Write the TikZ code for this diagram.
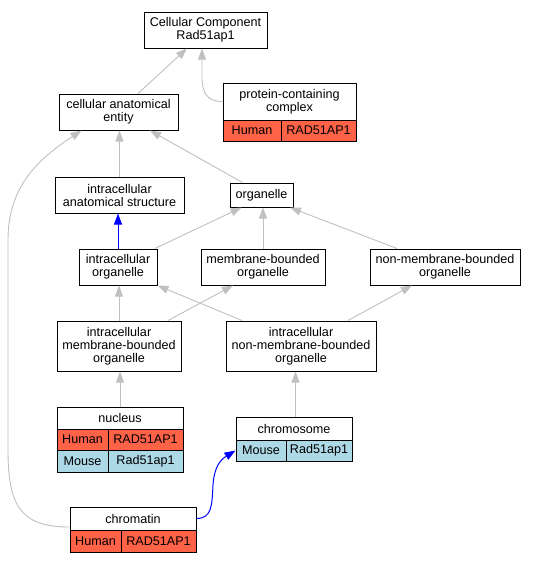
\documentclass[tikz,border=0pt]{standalone}
\usepackage{fontspec}
\setmainfont{Liberation Sans}
\usetikzlibrary{arrows.meta}
\definecolor{humanc}{HTML}{FF6347}
\definecolor{mousec}{HTML}{ADD8E6}
\definecolor{edgegray}{HTML}{C0C0C0}
\begin{document}
\begin{tikzpicture}[x=1pt,y=-1pt,
  box/.style={draw=black, line width=1pt, fill=white, align=center, inner sep=0pt, font=\fontsize{12.6}{13}\selectfont},
  hum/.style={box, fill=humanc},
  mou/.style={box, fill=mousec},
  gedge/.style={draw=edgegray, line width=0.9pt, -{Triangle[length=11pt,width=8pt]}},
  bedge/.style={draw=blue, line width=1pt, -{Triangle[length=11pt,width=8pt]}}]
\useasboundingbox (0,0) rectangle (536,563);
% nodes
\node[box, minimum width=123pt, minimum height=36pt] (cc) at (205.5,30) {Cellular Component\\Rad51ap1};
\node[box, minimum width=119pt, minimum height=36pt] (cae) at (118.5,112) {cellular anatomical\\entity};
\node[box, minimum width=133pt, minimum height=37pt] (pcc) at (289.5,101.5) {protein-containing\\complex};
\node[hum, minimum width=58pt, minimum height=21pt] (pcch) at (252,130.5) {Human};
\node[hum, minimum width=75pt, minimum height=21pt] (pccg) at (318.5,130.5) {RAD51AP1};
\node[box, minimum width=129pt, minimum height=36pt] (ias) at (119.5,195) {intracellular\\anatomical structure};
\node[box, minimum width=63pt, minimum height=24pt] (org) at (261.5,195) {organelle};
\node[box, minimum width=78pt, minimum height=36pt] (io) at (118,267) {intracellular\\organelle};
\node[box, minimum width=124pt, minimum height=36pt] (mbo) at (263,267) {membrane-bounded\\organelle};
\node[box, minimum width=150pt, minimum height=36pt] (nmbo) at (445,267) {non-membrane-bounded\\organelle};
\node[box, minimum width=124pt, minimum height=50pt] (imbo) at (119,346) {intracellular\\membrane-bounded\\organelle};
\node[box, minimum width=150pt, minimum height=50pt] (inmbo) at (301,346) {intracellular\\non-membrane-bounded\\organelle};
\node[box, minimum width=126pt, minimum height=22pt] (nuc) at (120,418) {nucleus};
\node[hum, minimum width=51pt, minimum height=21pt] (nuch) at (82.5,439.5) {Human};
\node[hum, minimum width=75pt, minimum height=21pt] (nucg) at (145.5,439.5) {RAD51AP1};
\node[mou, minimum width=51pt, minimum height=22pt] (nucm) at (82.5,461) {Mouse};
\node[mou, minimum width=75pt, minimum height=22pt] (nucmg) at (145.5,461) {Rad51ap1};
\node[box, minimum width=116pt, minimum height=23pt] (chr) at (294,428.5) {chromosome};
\node[mou, minimum width=50pt, minimum height=21pt] (chrm) at (261,450.5) {Mouse};
\node[mou, minimum width=66pt, minimum height=21pt] (chrg) at (319,450.5) {Rad51ap1};
\node[box, minimum width=126pt, minimum height=23pt] (cht) at (133,518.5) {chromatin};
\node[hum, minimum width=51pt, minimum height=22pt] (chth) at (95.5,541) {Human};
\node[hum, minimum width=75pt, minimum height=22pt] (chtg) at (158.5,541) {RAD51AP1};
% edges
\draw[gedge] ([xshift=19.5pt]cae.north) -- ([xshift=-18.5pt]cc.south);
\draw[gedge] (pcc.west) .. controls (206,101.5) and (202,92) .. (202,76) -- ([xshift=-3.5pt]cc.south);
\draw[gedge] (ias.north) -- (ias.north |- cae.south);
\draw[gedge] ([xshift=-19pt]org.north) -- ([xshift=31.5pt]cae.south);
\draw[bedge] (io.north) -- (io.north |- ias.south);
\draw[gedge] ([xshift=37pt]io.north) -- ([xshift=-20pt]org.south);
\draw[gedge] (mbo.north) -- (mbo.north |- org.south);
\draw[gedge] ([xshift=-48pt]nmbo.north) -- ([xshift=28.5pt]org.south);
\draw[gedge] (imbo.north) -- (imbo.north |- io.south);
\draw[gedge] ([xshift=49pt]imbo.north) -- ([xshift=-30pt]mbo.south);
\draw[gedge] ([xshift=-59pt]inmbo.north) -- (io.south east);
\draw[gedge] ([xshift=47pt]inmbo.north) -- ([xshift=-33pt]nmbo.south);
\draw[gedge] (nuc.north) -- (nuc.north |- imbo.south);
\draw[gedge] ([xshift=1.5pt]chr.north) -- ([xshift=1.5pt]chr.north |- inmbo.south);
\draw[bedge] (cht.east) .. controls (212,518.5) and (212,505) .. (213,485) .. controls (214,468) and (220,460) .. (chrm.west);
\draw[gedge] ([yshift=-8.5pt]cht.west) .. controls (20,527) and (8,505) .. (8,450) -- (8,240) .. controls (8,185) and (40,158) .. ([xshift=-37pt]cae.south);
\end{tikzpicture}
\end{document}
